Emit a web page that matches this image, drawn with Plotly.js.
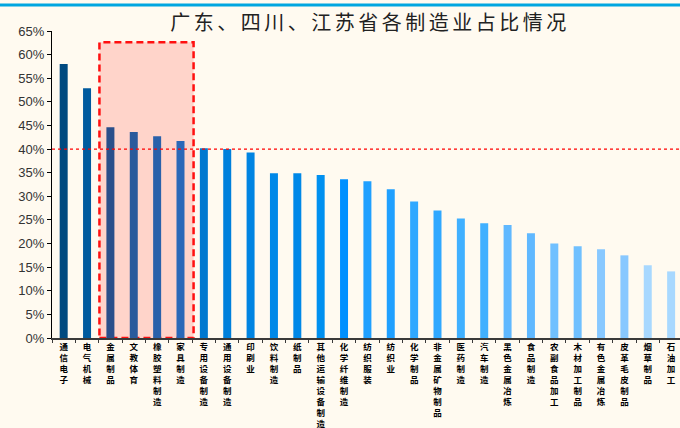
<!DOCTYPE html>
<html>
<head>
<meta charset="utf-8">
<script src="https://cdn.plot.ly/plotly-3.0.1.min.js"></script>
<style>
  html, body { margin: 0; padding: 0; background: #FFFAF0; }
  #chart { width: 680px; height: 428px; }
  .gtitle { letter-spacing: 3.5px; }
</style>
</head>
<body>
<div id="chart"></div>
<script>
// 制造业门类
const categories = [
  '通信电子', '电气机械', '金属制品', '文教体育', '橡胶塑料制造', '家具制造',
  '专用设备制造', '通用设备制造', '印刷业', '饮料制造', '纸制品', '其他运输设备制造',
  '化学纤维制造', '纺织服装', '纺织业', '化学制品', '非金属矿物制品', '医药制造',
  '汽车制造', '黑色金属冶炼', '食品制造', '农副食品加工', '木材加工制品',
  '有色金属冶炼', '皮革毛皮制品', '烟草制品', '石油加工'
];

// 广东、四川、江苏三省占比（%）
const shares = [
  58.0, 52.9, 44.6, 43.6, 42.7, 41.7,
  40.2, 40.0, 39.3, 34.9, 34.9, 34.5,
  33.6, 33.2, 31.5, 28.9, 27.0, 25.3,
  24.3, 23.9, 22.2, 20.0, 19.4,
  18.8, 17.5, 15.4, 14.1
];

// 参考线（%）
const referenceLine = 40;

// 重点标注的门类区间
const highlightFrom = '金属制品';
const highlightTo = '家具制造';

// 柱体颜色：由深到浅
const barColors = [
  '#004A80', '#005A9E', '#2A4F8A', '#2A5A9C', '#2A61AA', '#2A68B8',
  '#0078D0', '#0080DC', '#0084E2', '#0088E8', '#0088E8', '#0090F0',
  '#0090FF', '#20A0FF', '#20A0FF', '#30A8FF', '#30A8FF', '#40B0FF',
  '#40B0FF', '#60B8FF', '#60B8FF', '#70C0FF', '#70C0FF',
  '#88C8FF', '#88C8FF', '#A8D8FF', '#A8D8FF'
];

// 竖排标签：逐字换行
const verticalLabels = categories.map(s => s.split('').join('<br>'));

const i0 = categories.indexOf(highlightFrom);
const i1 = categories.indexOf(highlightTo);

const trace = {
  type: 'bar',
  x: categories,
  y: shares,
  marker: { color: barColors, line: { width: 0 } },
  hoverinfo: 'x+y'
};

const layout = {
  width: 680,
  height: 428,
  margin: { l: 52, r: 0, t: 31, b: 90, pad: 0 },
  paper_bgcolor: '#FFFAF0',
  plot_bgcolor: '#FFFAF0',
  showlegend: false,
  bargap: 0.658,
  title: {
    text: '广东、四川、江苏省各制造业占比情况',
    font: { family: 'Noto Sans CJK SC', size: 20, color: '#222222' },
    xref: 'container', yref: 'container',
    x: 370 / 680, xanchor: 'center',
    y: 1 - 23 / 428, yanchor: 'middle'
  },
  xaxis: {
    type: 'category',
    range: [-0.5, categories.length - 0.62],
    tickvals: categories,
    ticktext: verticalLabels,
    tickangle: 0,
    showline: true,
    linecolor: '#3A3A3A',
    linewidth: 1.5,
    ticks: 'outside',
    tickson: 'boundaries',
    ticklen: 3,
    tickcolor: '#3A3A3A',
    tickwidth: 1,
    showgrid: false,
    zeroline: false,
    automargin: false,
    fixedrange: true,
    tickfont: { family: 'Noto Sans CJK SC', size: 8.5, color: '#000000', weight: 'bold' }
  },
  yaxis: {
    range: [0, 65],
    tick0: 0,
    dtick: 5,
    ticksuffix: '%',
    showline: true,
    linecolor: '#000000',
    linewidth: 1,
    ticks: 'outside',
    ticklen: 4,
    tickcolor: '#000000',
    showgrid: false,
    zeroline: false,
    automargin: false,
    fixedrange: true,
    tickfont: { family: 'Liberation Sans, Arial, sans-serif', size: 13, color: '#333333' }
  },
  shapes: [
    // 重点区域底色与红色虚线框
    {
      type: 'rect', layer: 'below',
      xref: 'x', yref: 'y',
      x0: i0 - 0.47, x1: i1 + 0.56,
      y0: 0, y1: 62.6,
      fillcolor: '#FFD4CA',
      line: { color: '#FF1010', width: 2.5, dash: '7px,4px' }
    },
    // 40% 参考线
    {
      type: 'line', layer: 'above',
      xref: 'paper', yref: 'y',
      x0: 0, x1: 1, y0: referenceLine, y1: referenceLine,
      line: { color: '#FF0000', width: 1.2, dash: 'dot' }
    },
    // 顶部蓝色分隔线
    {
      type: 'line', layer: 'above',
      xref: 'paper', yref: 'paper',
      x0: -0.1, x1: 1, y0: 1 + 26 / 307, y1: 1 + 26 / 307,
      line: { color: '#00A6E0', width: 3 }
    }
  ]
};

Plotly.newPlot('chart', [trace], layout, { displayModeBar: false, staticPlot: true });
</script>
</body>
</html>
